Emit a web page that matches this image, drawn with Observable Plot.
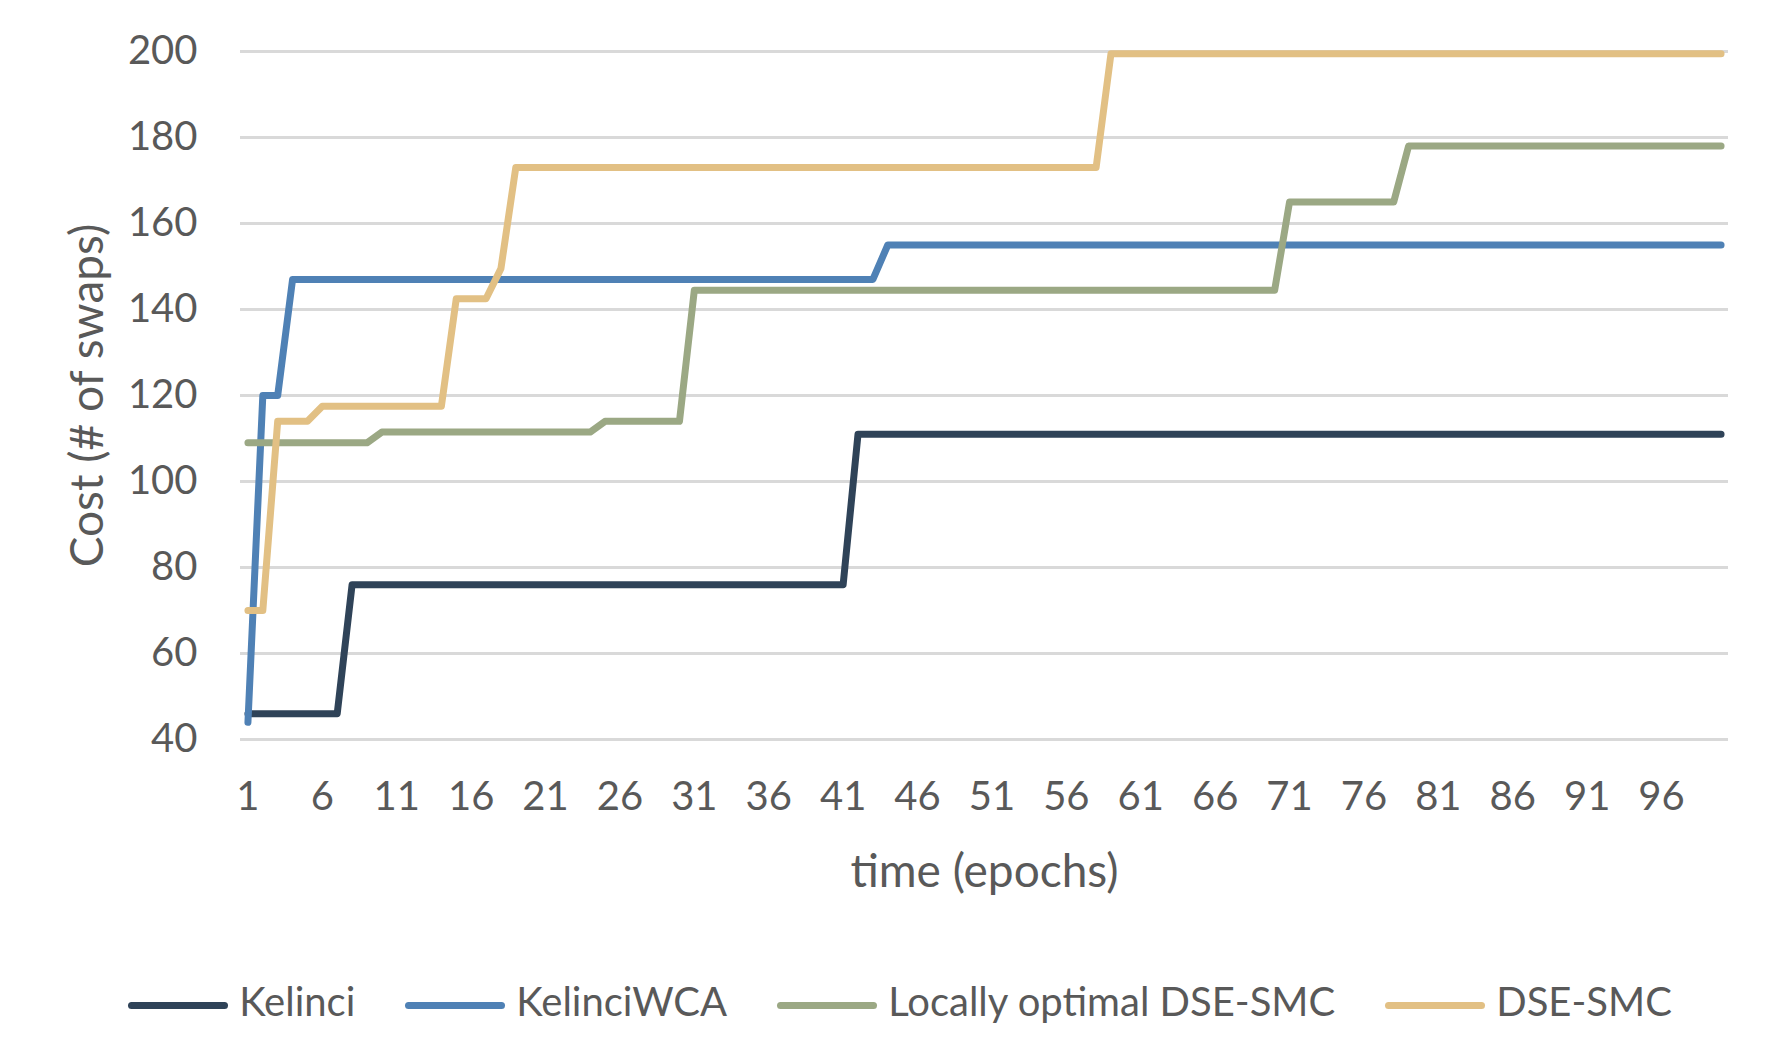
<!DOCTYPE html>
<html>
<head>
<meta charset="utf-8">
<script src="https://cdn.jsdelivr.net/npm/d3@7"></script>
<script src="https://cdn.jsdelivr.net/npm/@observablehq/plot@0.6"></script>
<style>
  html, body { margin: 0; padding: 0; background: #ffffff; }
  #wrap { position: relative; width: 1792px; height: 1056px; }
  #legend {
    position: absolute; left: 0; top: 977px; width: 1800px; height: 48px;
    display: flex; justify-content: center; align-items: center;
    font-family: Lato, "Open Sans", sans-serif; font-size: 40px; color: #595959;
  }
  .item { display: flex; align-items: center; margin: 0 25px; white-space: nowrap; }
  .sw { width: 100px; height: 7px; border-radius: 3.5px; margin-right: 11px; transform: translateY(4px); }
</style>
</head>
<body>
<div id="wrap">
  <div id="chart"></div>
  <div id="legend"></div>
</div>
<script>
// ---- data ----
const epochs = d3.range(1, 101);
const xTickLabels = [1, 6, 11, 16, 21, 26, 31, 36, 41, 46, 51, 56, 61, 66, 71, 76, 81, 86, 91, 96];
const yTickLabels = [40, 60, 80, 100, 120, 140, 160, 180, 200];
const seriesNames = ["Kelinci", "KelinciWCA", "Locally optimal DSE-SMC", "DSE-SMC"];
const seriesColors = ["#2F4358", "#4F81B5", "#9BA884", "#E2C084"];

const kelinci = [
  46, 46, 46, 46, 46, 46, 46, 76, 76, 76,
  76, 76, 76, 76, 76, 76, 76, 76, 76, 76,
  76, 76, 76, 76, 76, 76, 76, 76, 76, 76,
  76, 76, 76, 76, 76, 76, 76, 76, 76, 76,
  76, 111, 111, 111, 111, 111, 111, 111, 111, 111,
  111, 111, 111, 111, 111, 111, 111, 111, 111, 111,
  111, 111, 111, 111, 111, 111, 111, 111, 111, 111,
  111, 111, 111, 111, 111, 111, 111, 111, 111, 111,
  111, 111, 111, 111, 111, 111, 111, 111, 111, 111,
  111, 111, 111, 111, 111, 111, 111, 111, 111, 111
];
const kelinciWCA = [
  44, 120, 120, 147, 147, 147, 147, 147, 147, 147,
  147, 147, 147, 147, 147, 147, 147, 147, 147, 147,
  147, 147, 147, 147, 147, 147, 147, 147, 147, 147,
  147, 147, 147, 147, 147, 147, 147, 147, 147, 147,
  147, 147, 147, 155, 155, 155, 155, 155, 155, 155,
  155, 155, 155, 155, 155, 155, 155, 155, 155, 155,
  155, 155, 155, 155, 155, 155, 155, 155, 155, 155,
  155, 155, 155, 155, 155, 155, 155, 155, 155, 155,
  155, 155, 155, 155, 155, 155, 155, 155, 155, 155,
  155, 155, 155, 155, 155, 155, 155, 155, 155, 155
];
const locallyOptimal = [
  109, 109, 109, 109, 109, 109, 109, 109, 109, 111.5,
  111.5, 111.5, 111.5, 111.5, 111.5, 111.5, 111.5, 111.5, 111.5, 111.5,
  111.5, 111.5, 111.5, 111.5, 114, 114, 114, 114, 114, 114,
  144.5, 144.5, 144.5, 144.5, 144.5, 144.5, 144.5, 144.5, 144.5, 144.5,
  144.5, 144.5, 144.5, 144.5, 144.5, 144.5, 144.5, 144.5, 144.5, 144.5,
  144.5, 144.5, 144.5, 144.5, 144.5, 144.5, 144.5, 144.5, 144.5, 144.5,
  144.5, 144.5, 144.5, 144.5, 144.5, 144.5, 144.5, 144.5, 144.5, 144.5,
  165, 165, 165, 165, 165, 165, 165, 165, 178, 178,
  178, 178, 178, 178, 178, 178, 178, 178, 178, 178,
  178, 178, 178, 178, 178, 178, 178, 178, 178, 178
];
const dseSmc = [
  70, 70, 114, 114, 114, 117.5, 117.5, 117.5, 117.5, 117.5,
  117.5, 117.5, 117.5, 117.5, 142.5, 142.5, 142.5, 149.5, 173, 173,
  173, 173, 173, 173, 173, 173, 173, 173, 173, 173,
  173, 173, 173, 173, 173, 173, 173, 173, 173, 173,
  173, 173, 173, 173, 173, 173, 173, 173, 173, 173,
  173, 173, 173, 173, 173, 173, 173, 173, 199.5, 199.5,
  199.5, 199.5, 199.5, 199.5, 199.5, 199.5, 199.5, 199.5, 199.5, 199.5,
  199.5, 199.5, 199.5, 199.5, 199.5, 199.5, 199.5, 199.5, 199.5, 199.5,
  199.5, 199.5, 199.5, 199.5, 199.5, 199.5, 199.5, 199.5, 199.5, 199.5,
  199.5, 199.5, 199.5, 199.5, 199.5, 199.5, 199.5, 199.5, 199.5, 199.5
];
const xTitle = "time (epochs)";
const yTitle = "Cost (# of swaps)";

// ---- build table ----
const seriesValues = [kelinci, kelinciWCA, locallyOptimal, dseSmc];
const rows = [];
seriesNames.forEach((name, s) => {
  epochs.forEach((e, i) => rows.push({series: name, epoch: e, cost: seriesValues[s][i]}));
});

const textColor = "#595959";
const chart = Plot.plot({
  width: 1792,
  height: 920,
  marginLeft: 240,
  marginRight: 64,
  marginTop: 51,
  marginBottom: 181,
  style: {fontFamily: "Lato, 'Open Sans', sans-serif", fontSize: "40px", color: textColor, background: "#ffffff"},
  x: {type: "linear", domain: [0.5, 100.5]},
  y: {domain: [40, 200]},
  color: {domain: seriesNames, range: seriesColors},
  marks: [
    Plot.ruleY(yTickLabels, {stroke: "#D9D9D9", strokeWidth: 3}),
    Plot.axisY(yTickLabels, {tickSize: 0, tickPadding: 43, label: null, fontSize: 40}),
    Plot.axisX(xTickLabels, {tickSize: 0, tickPadding: 42, label: null, fontSize: 40}),
    Plot.line(rows, {x: "epoch", y: "cost", z: "series", stroke: "series", strokeWidth: 7, strokeLinejoin: "round", strokeLinecap: "round"}),
    Plot.text([yTitle], {frameAnchor: "left", textAnchor: "middle", dx: -152, rotate: -90, fontSize: 46, fill: textColor}),
    Plot.text([xTitle], {frameAnchor: "bottom", textAnchor: "middle", dy: 147, fontSize: 46, fill: textColor})
  ]
});
document.getElementById("chart").appendChild(chart);

// ---- legend ----
const legend = document.getElementById("legend");
seriesNames.forEach((name, i) => {
  const item = document.createElement("div");
  item.className = "item";
  const sw = document.createElement("div");
  sw.className = "sw";
  sw.style.background = seriesColors[i];
  const label = document.createElement("span");
  label.textContent = name;
  item.appendChild(sw);
  item.appendChild(label);
  legend.appendChild(item);
});
</script>
</body>
</html>
